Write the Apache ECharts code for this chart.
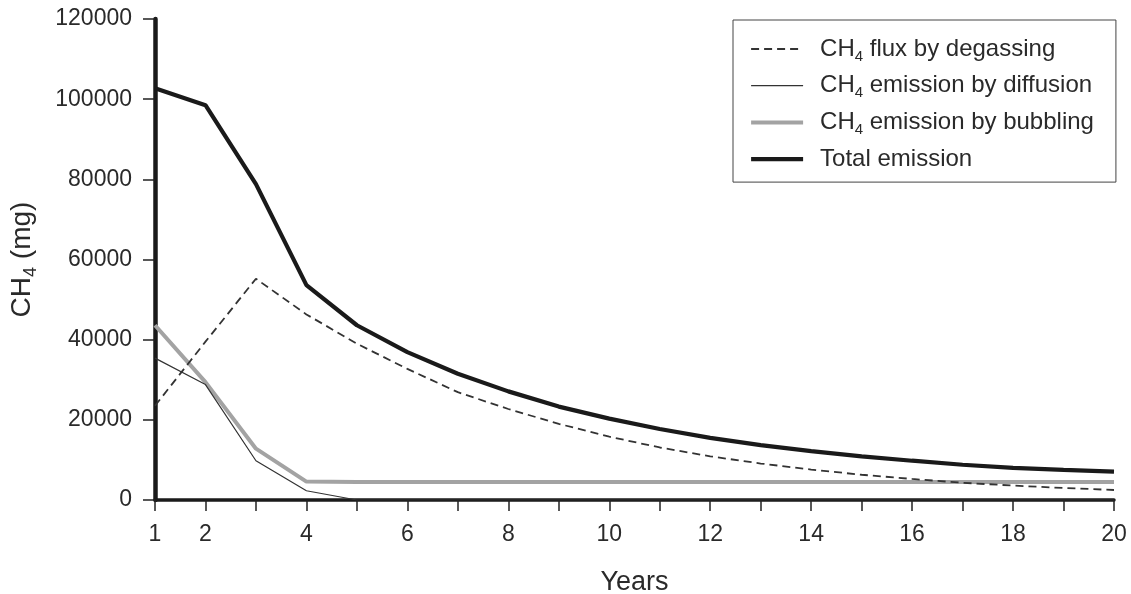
<!DOCTYPE html>
<html>
<head>
<meta charset="utf-8">
<script src="https://cdn.jsdelivr.net/npm/echarts@6/dist/echarts.min.js"></script>
<style>html,body{margin:0;padding:0;background:#fff}#c{width:1131px;height:594px}</style>
</head>
<body>
<div id="c"></div>
<script>
var years = [1,2,3,4,5,6,7,8,9,10,11,12,13,14,15,16,17,18,19,20];
var xTickLabels = [1,2,4,6,8,10,12,14,16,18,20];
var degassing = [23500,39500,55200,46300,39000,32700,26900,22700,19000,15800,13100,10900,9100,7600,6300,5250,4300,3600,3000,2500];
var diffusion = [35400,28800,9800,2300,0,0,0,0,0,0,0,0,0,0,0,0,0,0,0,0];
var bubbling = [43600,29400,12800,4600,4500,4500,4500,4500,4500,4500,4500,4500,4500,4500,4500,4500,4500,4500,4500,4500];
var total = [102700,98500,78800,53600,43600,36900,31500,27100,23300,20300,17700,15500,13700,12200,10900,9800,8800,8000,7500,7100];
var seriesNames = ['CH4 flux by degassing','CH4 emission by diffusion','CH4 emission by bubbling','Total emission'];
var legendLabels = {
  'CH4 flux by degassing': '{n|CH}{s|4}{n| flux by degassing}',
  'CH4 emission by diffusion': '{n|CH}{s|4}{n| emission by diffusion}',
  'CH4 emission by bubbling': '{n|CH}{s|4}{n| emission by bubbling}',
  'Total emission': '{n|Total emission}'
};
var styles = [
  {color: '#333', width: 1.8, type: [8,5]},
  {color: '#333', width: 1.2, type: 'solid'},
  {color: '#a3a3a3', width: 4, type: 'solid'},
  {color: '#1a1a1a', width: 4.2, type: 'solid'}
];
function pairs(arr){ return years.map(function(y,i){ return [y, arr[i]]; }); }
var FONT = '"Liberation Sans", Arial, Helvetica, sans-serif';
var TXT = '#2a2a2a';
var chart = echarts.init(document.getElementById('c'), null, {renderer:'canvas'});
chart.setOption({
  animation: false,
  backgroundColor: '#fff',
  textStyle: {fontFamily: FONT},
  grid: {left: 155, right: 17, top: 19, bottom: 94, containLabel: false, outerBoundsMode: 'none'},
  legend: {
    orient: 'vertical',
    left: 733, top: 20,
    data: seriesNames.map(function(n, i){
      return {name: n, lineStyle: {color: styles[i].color, width: styles[i].width, type: styles[i].type},
              itemStyle: {opacity: 0}};
    }),
    itemWidth: 52, itemHeight: 14, itemGap: 9.7,
    itemStyle: {opacity: 0},
    borderColor: '#444', borderWidth: 1, borderRadius: 0,
    padding: [17, 22, 11, 16],
    formatter: function(n){ return legendLabels[n]; },
    textStyle: {
      color: TXT, fontFamily: FONT, padding: [0,0,0,12],
      rich: {
        n: {fontSize: 24, lineHeight: 30, color: TXT, fontFamily: FONT},
        s: {fontSize: 15, lineHeight: 15, verticalAlign: 'bottom', color: TXT, fontFamily: FONT}
      }
    }
  },
  xAxis: {
    type: 'value', min: 1, max: 20, interval: 1,
    name: 'Years', nameLocation: 'middle', nameGap: 69,
    nameTextStyle: {fontSize: 27, color: TXT, fontFamily: FONT},
    axisLine: {show: true, onZero: false, lineStyle: {color: '#1a1a1a', width: 3.5}},
    axisTick: {show: true, length: 11, lineStyle: {color: '#222', width: 1.5}},
    splitLine: {show: false},
    axisLabel: {
      fontSize: 23, color: TXT, margin: 23, fontFamily: FONT,
      formatter: function(v){ return xTickLabels.indexOf(v) >= 0 ? String(v) : ''; }
    }
  },
  yAxis: {
    type: 'value', min: 0, max: 120000, interval: 20000,
    name: '{n|CH}{s|4}{n| (mg)}', nameLocation: 'middle', nameGap: 115, nameRotate: 90,
    nameTextStyle: {
      color: TXT, fontFamily: FONT,
      rich: {
        n: {fontSize: 28, lineHeight: 36, color: TXT, fontFamily: FONT},
        s: {fontSize: 18, lineHeight: 18, verticalAlign: 'bottom', color: TXT, fontFamily: FONT}
      }
    },
    axisLine: {show: true, lineStyle: {color: '#1a1a1a', width: 4.5}},
    axisTick: {show: true, length: 12, lineStyle: {color: '#222', width: 1.5}},
    splitLine: {show: false},
    axisLabel: {fontSize: 23, color: TXT, margin: 23, fontFamily: FONT,
      formatter: function(v){ return String(v); }}
  },
  series: [
    {name: seriesNames[0], type: 'line', data: pairs(degassing), symbol: 'none', z: 3,
     lineStyle: styles[0], itemStyle: {color: styles[0].color}},
    {name: seriesNames[1], type: 'line', data: pairs(diffusion), symbol: 'none', z: 4,
     lineStyle: styles[1], itemStyle: {color: styles[1].color}},
    {name: seriesNames[2], type: 'line', data: pairs(bubbling), symbol: 'none', z: 2,
     lineStyle: styles[2], itemStyle: {color: styles[2].color}},
    {name: seriesNames[3], type: 'line', data: pairs(total), symbol: 'none', z: 5,
     lineStyle: styles[3], itemStyle: {color: styles[3].color}}
  ]
});
</script>
</body>
</html>
